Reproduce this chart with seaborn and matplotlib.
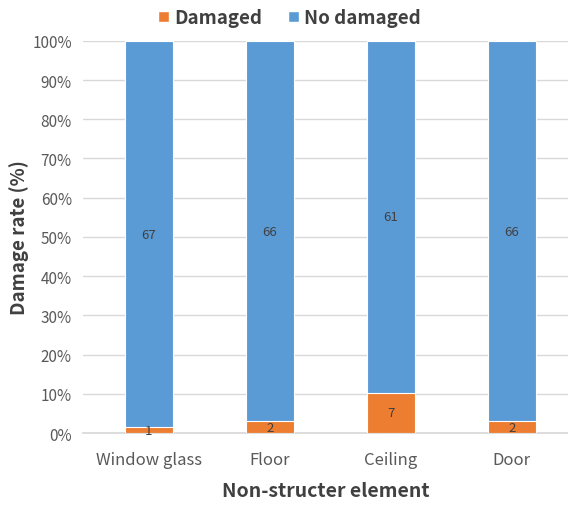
import matplotlib
matplotlib.use("Agg")
import matplotlib.pyplot as plt
import seaborn as sns
import pandas as pd
import numpy as np
from matplotlib.patches import Patch

elements = ["Window glass", "Floor", "Ceiling", "Door"]
damaged = [1, 2, 7, 2]
no_damaged = [67, 66, 61, 66]

sns.set_theme(style="white")
plt.rcParams["font.family"] = ["Noto Sans CJK JP", "DejaVu Sans"]

ORANGE = "#ED7D31"
BLUE = "#5B9BD5"
GRID = "#D9D9D9"
TXT = "#595959"

df = pd.DataFrame({"element": elements, "damaged": damaged, "no_damaged": no_damaged})
df["total"] = df["damaged"] + df["no_damaged"]
df["dam_pct"] = df["damaged"] / df["total"] * 100
df["total_pct"] = 100.0

fig = plt.figure(figsize=(5.68, 5.10), dpi=100)
ax = fig.add_axes([0.146, 0.149, 0.854, 0.769])

sns.barplot(data=df, x="element", y="total_pct", color=BLUE, width=0.40,
            saturation=1, edgecolor="white", linewidth=0.8, ax=ax, zorder=2)
sns.barplot(data=df, x="element", y="dam_pct", color=ORANGE, width=0.40,
            saturation=1, edgecolor="white", linewidth=0.8, ax=ax, zorder=3)

# value labels at the middle of each segment
for i, row in df.iterrows():
    ax.text(i, row["dam_pct"] / 2, f"{row['damaged']}", ha="center", va="center",
            fontsize=9.5, color="#404040", zorder=4)
    ax.text(i, row["dam_pct"] + (100 - row["dam_pct"]) / 2, f"{row['no_damaged']}",
            ha="center", va="center", fontsize=9.5, color="#404040", zorder=4)

ax.set_xlim(-0.545, 3.465)
ax.set_ylim(0, 100)
ax.set_yticks(np.arange(0, 101, 10))
ax.set_yticklabels([f"{v}%" for v in range(0, 101, 10)], color=TXT, fontsize=11)
ax.set_xticks(range(len(elements)))
ax.set_xticklabels(elements, color=TXT, fontsize=12)
ax.tick_params(axis="y", length=0, pad=8)
ax.tick_params(axis="x", length=0, pad=13)
ax.yaxis.grid(True, color=GRID, linewidth=1, zorder=0)
ax.set_axisbelow(True)
for s in ["top", "right", "left"]:
    ax.spines[s].set_visible(False)
ax.spines["bottom"].set_color(GRID)

ax.set_xlabel("Non-structer element", fontsize=14, fontweight="bold", color="#404040", labelpad=9)
ax.set_ylabel("Damage rate (%)", fontsize=13.5, fontweight="bold", color="#404040", labelpad=2)

handles = [Patch(facecolor=ORANGE, label="Damaged"), Patch(facecolor=BLUE, label="No damaged")]
fig.legend(handles=handles, loc="center", bbox_to_anchor=(0.51, 0.963), ncol=2, frameon=False,
           prop={"size": 13.5, "weight": "bold"}, labelcolor="#404040",
           handlelength=0.55, handleheight=0.55, handletextpad=0.3, columnspacing=1.4)

fig.savefig("out.png", dpi=100)
